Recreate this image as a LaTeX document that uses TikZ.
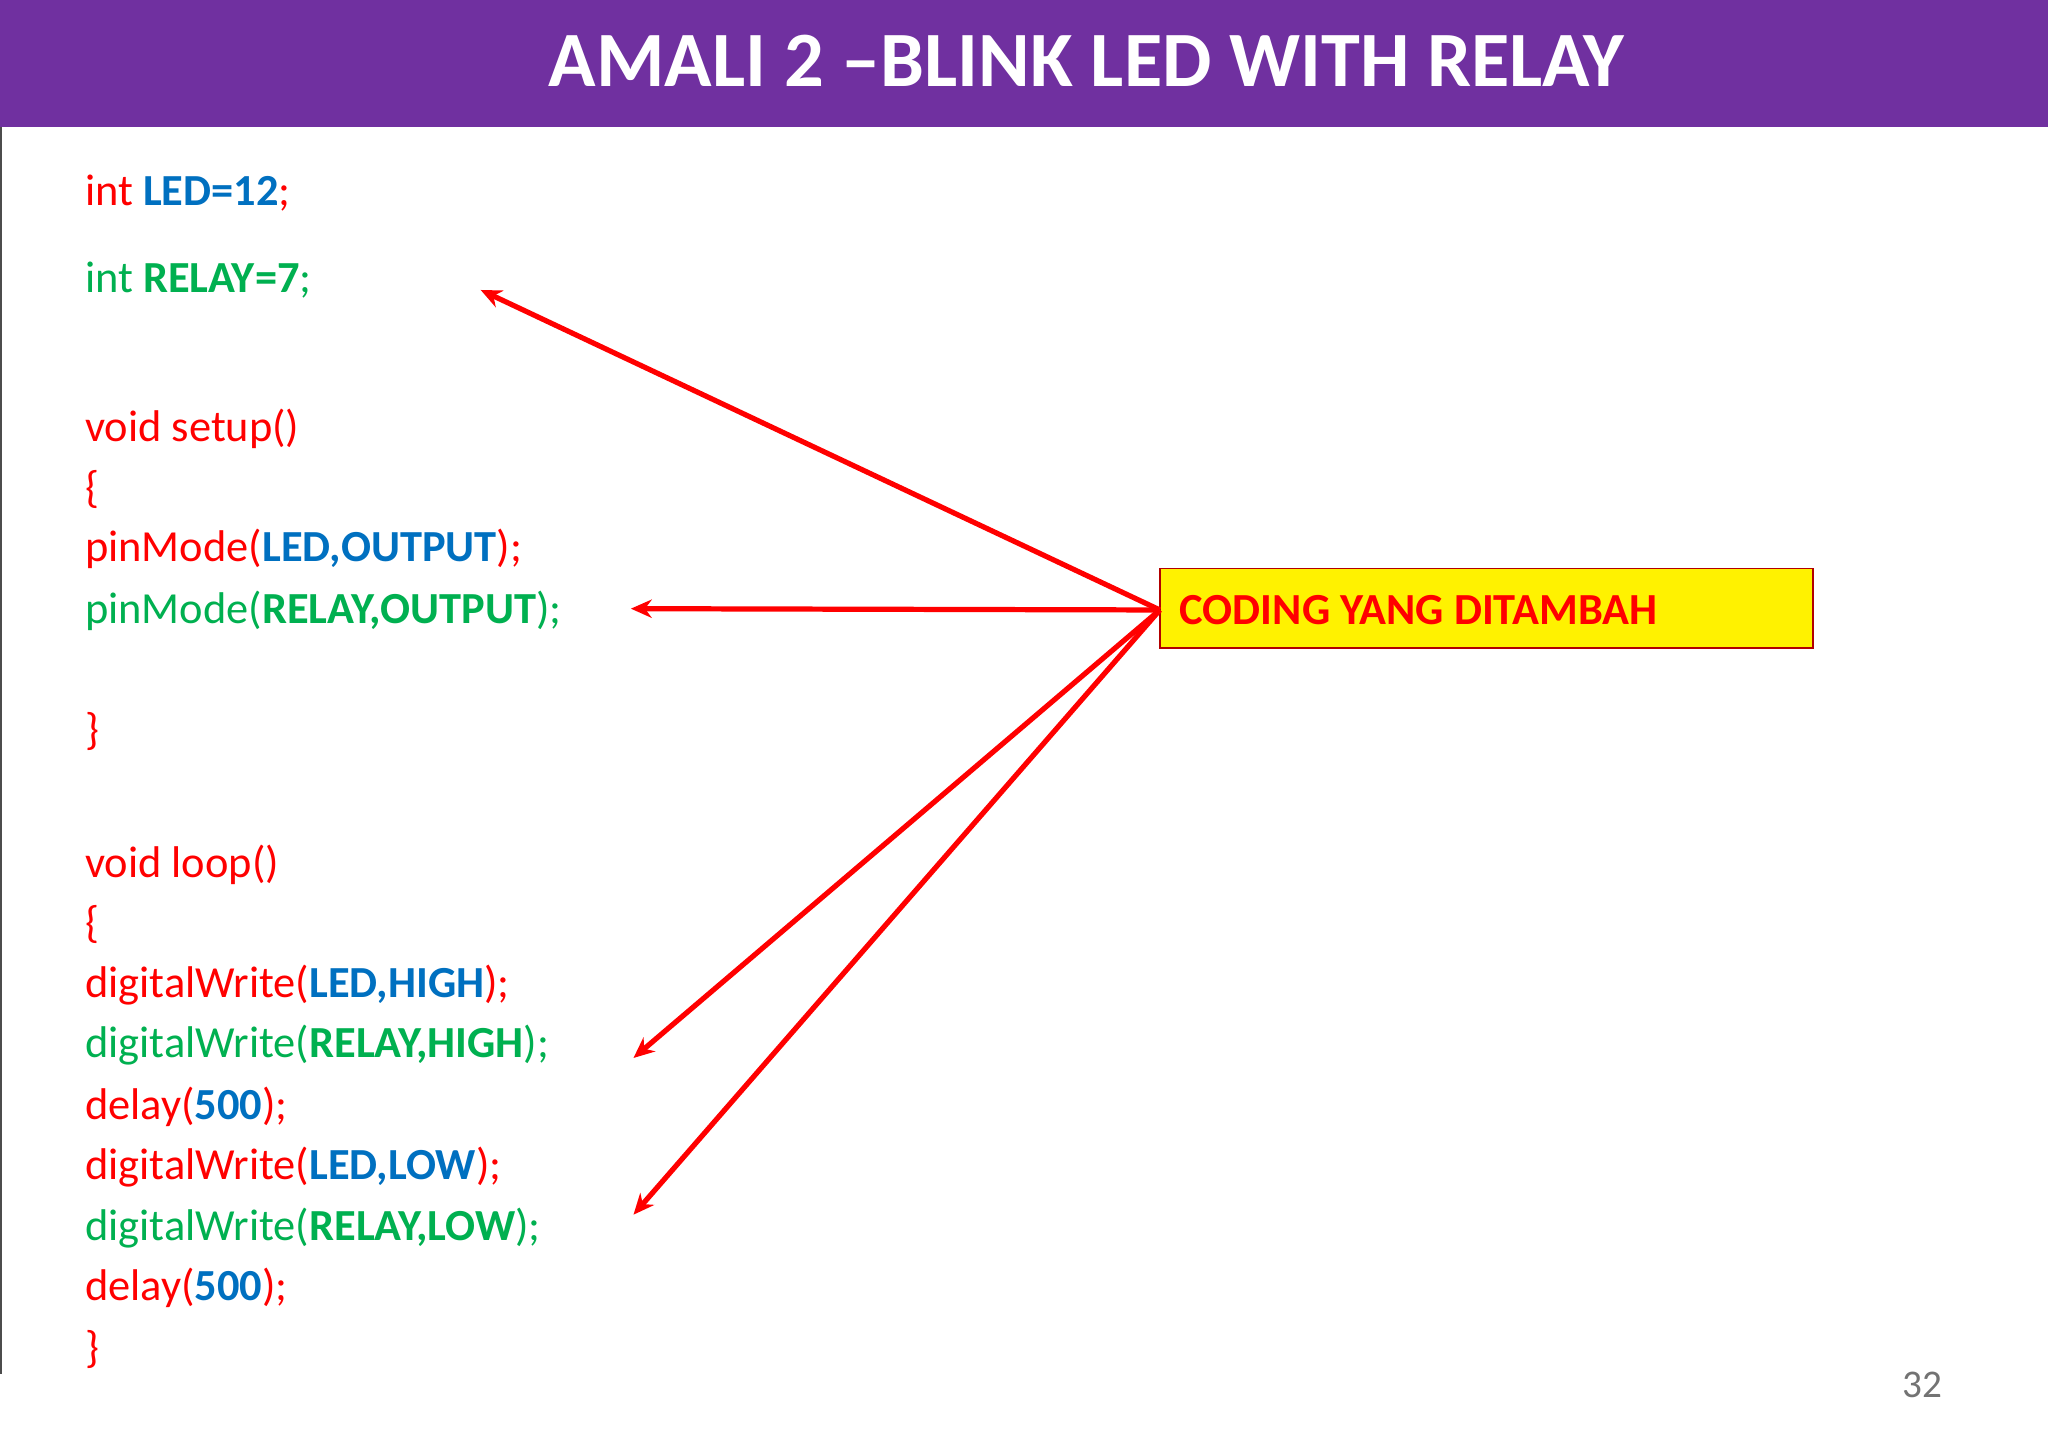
\documentclass[tikz,border=0pt]{standalone}
\usepackage{fontspec}
\setmainfont{Carlito}
\usetikzlibrary{arrows.meta}
\definecolor{cred}{HTML}{FF0000}
\definecolor{cblue}{HTML}{0070C0}
\definecolor{cgreen}{HTML}{00B050}
\definecolor{cpurple}{HTML}{7030A0}
\begin{document}
\begin{tikzpicture}[x=1pt,y=-1pt,
  code/.style={anchor=base west,inner sep=0pt,font=\fontsize{34}{40}\selectfont},
  arr/.style={draw=cred,line width=4pt,-{Stealth[length=16pt,width=14pt]}}]
\useasboundingbox (0,0) rectangle (1568,1114);
\fill[white] (0,0) rectangle (1568,1114);
\fill[cpurple] (0,0) rectangle (1568,97);
\node[anchor=base,text=white,font=\fontsize{60}{70}\selectfont\bfseries] (title) at (832,66) {AMALI 2 –BLINK LED WITH RELAY};
\draw[black!70,line width=1.5pt] (1,97) -- (1,1052);
\node[code,text=cred] (l1) at (65,157) {int \textcolor{cblue}{\bfseries LED=12};};
\node[code,text=cgreen] (l2) at (65,224) {int \textbf{RELAY=7};};
\node[code,text=cred] (l3) at (65,338) {void setup()};
\node[code,text=cred] (l4) at (65,385) {\{};
\node[code,text=cred] (l5) at (65,430) {pinMode(\textcolor{cblue}{\bfseries LED,OUTPUT});};
\node[code,text=cgreen] (l6) at (65,477) {pinMode(\textbf{RELAY,OUTPUT});};
\node[code,text=cred] (l7) at (65,570) {\}};
\node[code,text=cred] (l8) at (65,672) {void loop()};
\node[code,text=cred] (l9) at (65,718) {\{};
\node[code,text=cred] (l10) at (65,764) {digitalWrite(\textcolor{cblue}{\bfseries LED,HIGH});};
\node[code,text=cgreen] (l11) at (65,810) {digitalWrite(\textbf{RELAY,HIGH});};
\node[code,text=cred] (l12) at (65,857) {delay(\textcolor{cblue}{\bfseries 500});};
\node[code,text=cred] (l13) at (65,903) {digitalWrite(\textcolor{cblue}{\bfseries LED,LOW});};
\node[code,text=cgreen] (l14) at (65,950) {digitalWrite(\textbf{RELAY,LOW});};
\node[code,text=cred] (l15) at (65,996) {delay(\textcolor{cblue}{\bfseries 500});};
\node[code,text=cred] (l16) at (65,1043) {\}};
\fill[yellow,draw=red!70!black,line width=1pt] (888,435) rectangle (1388,496);
\node[anchor=west,inner sep=0pt,text=cred,font=\fontsize{34}{40}\selectfont\bfseries] (box) at (903,467) {CODING YANG DITAMBAH};
\coordinate (src) at (888,467);
\coordinate (t1) at (368,222);
\coordinate (t2) at (483,466);
\coordinate (t3) at (485,810);
\coordinate (t4) at (485,930);
\draw[arr] (src) -- (t1);
\draw[arr] (src) -- (t2);
\draw[arr] (src) -- (t3);
\draw[arr] (src) -- (t4);
\node[anchor=base,text=black!55,font=\fontsize{30}{36}\selectfont] (pg) at (1472,1070) {32};
\end{tikzpicture}
\end{document}
